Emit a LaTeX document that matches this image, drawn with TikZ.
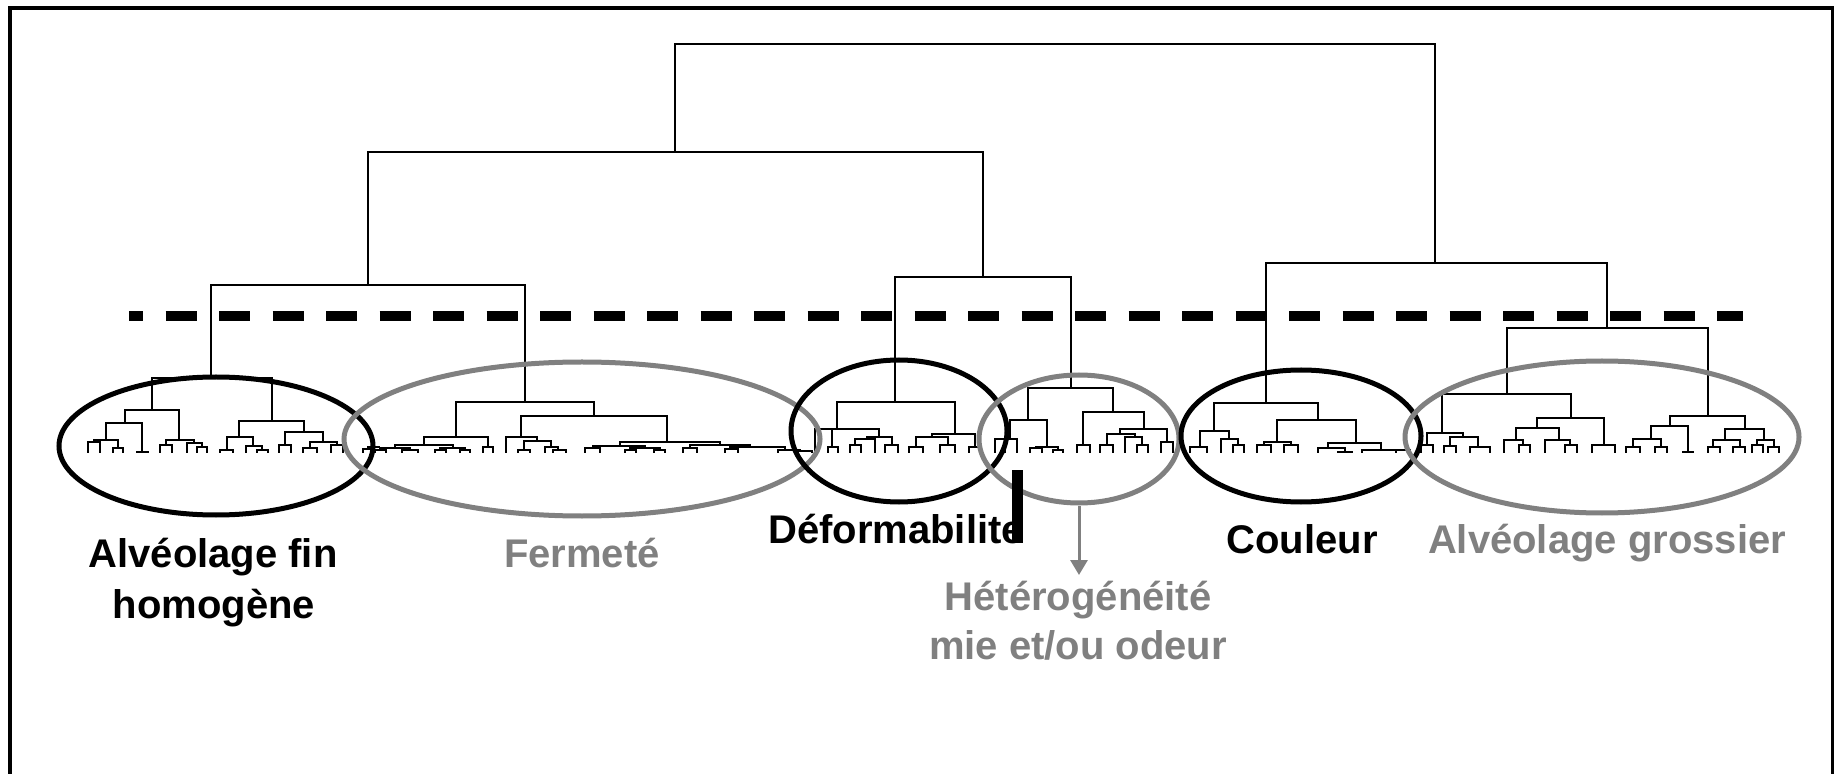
\documentclass[tikz,border=0pt]{standalone}
\usepackage{fontspec}
\setmainfont{Liberation Sans}
\usetikzlibrary{shapes.geometric,arrows.meta}
\definecolor{grayc}{RGB}{128,128,128}
\newcommand\dlink[5]{\draw[tree] (#1,#4) -- (#1,#3) -- (#2,#3) -- (#2,#5);}
\begin{document}
\begin{tikzpicture}[x=0.5pt,y=-0.5pt,
  tree/.style={line width=1pt},
  ringb/.style={ellipse,draw=black,line width=2.5pt,inner sep=0pt},
  ringg/.style={ellipse,draw=grayc,line width=2.5pt,inner sep=0pt},
  lab/.style={font=\fontsize{20}{24}\selectfont\bfseries,inner sep=0pt,anchor=base},
  cutline/.style={line width=5pt,dash pattern=on 15.5pt off 11.25pt,dash phase=8.5pt}]
\useasboundingbox (0,0) rectangle (1834,774);
% frame
\draw[line width=2pt] (10,790) -- (10,8) -- (1833,8) -- (1833,790);
% ---- upper dendrogram
\dlink{675}{1435}{44}{152}{263}
\dlink{368}{983}{152}{285}{277}
\dlink{211}{525}{285}{378}{402}
\dlink{895}{1071}{277}{402}{388}
\dlink{1266}{1607}{263}{403}{328}
% ---- cluster 1
\dlink{152}{272}{378}{410}{421}
\dlink{125}{179}{410}{423}{440}
\dlink{106}{142}{423}{440}{452}
\dlink{137}{148}{452}{453}{453}
\dlink{94}{118}{440}{442}{448}
\dlink{88}{100}{442}{453}{453}
\dlink{113}{123}{448}{453}{453}
\dlink{166}{194}{440}{445}{443}
\dlink{160}{172}{445}{453}{453}
\dlink{187}{202}{443}{453}{447}
\dlink{197}{207}{447}{453}{453}
\dlink{239}{304}{421}{437}{432}
\dlink{227}{253}{437}{450}{446}
\dlink{220}{233}{450}{453}{453}
\dlink{246}{262}{446}{453}{450}
\dlink{257}{268}{450}{453}{453}
\dlink{285}{323}{432}{445}{442}
\dlink{279}{291}{445}{453}{453}
\dlink{310}{337}{442}{448}{445}
\dlink{303}{317}{448}{453}{453}
\dlink{331}{343}{445}{453}{453}
% ---- Fermete
\dlink{456}{594}{402}{437}{416}
\dlink{424}{488}{437}{445}{447}
\dlink{395}{453}{445}{448}{448}
\dlink{380}{410}{448}{450}{450}
\dlink{375}{386}{450}{453}{453}
\dlink{402}{418}{450}{453}{453}
\dlink{440}{465}{448}{450}{450}
\dlink{435}{446}{450}{453}{453}
\dlink{460}{470}{450}{453}{453}
\dlink{483}{493}{447}{453}{453}
\dlink{363}{374}{449}{453}{453}
\draw[tree] (368,449) -- (368,447) -- (380,447);
\dlink{521}{667}{416}{437}{442}
\dlink{506}{537}{437}{453}{441}
\dlink{524}{551}{441}{450}{447}
\dlink{518}{530}{450}{453}{453}
\dlink{545}{558}{447}{453}{450}
\dlink{553}{566}{450}{453}{453}
\dlink{620}{720}{442}{446}{445}
\dlink{593}{645}{446}{448}{448}
\dlink{585}{600}{448}{453}{453}
\dlink{630}{660}{448}{450}{450}
\dlink{625}{636}{450}{453}{453}
\dlink{654}{665}{450}{453}{453}
\dlink{690}{750}{445}{448}{447}
\dlink{683}{697}{448}{453}{453}
\dlink{730}{785}{447}{449}{450}
\dlink{725}{738}{449}{453}{453}
\dlink{778}{800}{450}{453}{451}
\dlink{795}{812}{451}{453}{453}
% ---- Deformabilite
\dlink{837}{955}{402}{429}{434}
\dlink{815}{879}{429}{453}{437}
\draw[tree] (832,429) -- (832,447);
\dlink{828}{838}{447}{453}{453}
\dlink{867}{892}{437}{439}{445}
\dlink{855}{875}{439}{445}{453}
\dlink{850}{861}{445}{453}{453}
\dlink{885}{898}{445}{453}{453}
\dlink{932}{975}{434}{437}{447}
\dlink{916}{948}{437}{447}{445}
\dlink{909}{923}{447}{453}{453}
\dlink{940}{955}{445}{453}{453}
\dlink{969}{980}{447}{453}{453}
% ---- Heterogeneite
\dlink{1028}{1113}{388}{420}{412}
\dlink{1010}{1047}{420}{439}{447}
\dlink{995}{1017}{439}{453}{453}
\draw[tree] (1005,439) -- (1005,453);
\dlink{1036}{1058}{447}{448}{450}
\dlink{1030}{1042}{448}{453}{453}
\dlink{1053}{1063}{450}{453}{453}
\dlink{1083}{1144}{412}{445}{429}
\dlink{1077}{1090}{445}{453}{453}
\dlink{1120}{1167}{429}{434}{442}
\dlink{1107}{1135}{434}{445}{437}
\dlink{1100}{1113}{445}{453}{453}
\dlink{1125}{1142}{437}{453}{445}
\dlink{1137}{1148}{445}{453}{453}
\dlink{1161}{1173}{442}{453}{453}
% ---- Couleur
\dlink{1214}{1318}{403}{431}{420}
\dlink{1200}{1229}{431}{447}{439}
\dlink{1190}{1207}{447}{453}{453}
\dlink{1221}{1238}{439}{453}{445}
\dlink{1233}{1244}{445}{453}{453}
\dlink{1277}{1356}{420}{442}{443}
\dlink{1264}{1291}{442}{445}{445}
\dlink{1257}{1271}{445}{453}{453}
\dlink{1284}{1298}{445}{453}{453}
\dlink{1328}{1381}{443}{448}{450}
\dlink{1318}{1345}{448}{453}{452}
\dlink{1338}{1352}{452}{453}{453}
\dlink{1362}{1403}{450}{453}{450}
\dlink{1396}{1410}{450}{453}{453}
% ---- Alveolage grossier
\dlink{1507}{1708}{328}{394}{416}
\dlink{1442}{1571}{394}{433}{418}
\dlink{1427}{1463}{433}{445}{437}
\dlink{1421}{1433}{445}{453}{453}
\dlink{1450}{1478}{437}{446}{447}
\dlink{1444}{1456}{446}{453}{453}
\dlink{1470}{1490}{447}{453}{453}
\dlink{1537}{1604}{418}{428}{445}
\dlink{1516}{1559}{428}{440}{440}
\dlink{1504}{1523}{440}{453}{445}
\dlink{1519}{1530}{445}{453}{453}
\dlink{1545}{1570}{440}{453}{445}
\dlink{1565}{1577}{445}{453}{453}
\dlink{1592}{1615}{445}{453}{453}
\dlink{1670}{1745}{416}{426}{429}
\dlink{1651}{1688}{426}{439}{452}
\dlink{1683}{1693}{452}{453}{453}
\dlink{1633}{1661}{439}{447}{447}
\dlink{1626}{1640}{447}{453}{453}
\dlink{1655}{1667}{447}{453}{453}
\dlink{1725}{1764}{429}{440}{440}
\dlink{1713}{1740}{440}{447}{447}
\dlink{1708}{1720}{447}{453}{453}
\dlink{1733}{1745}{447}{453}{453}
\dlink{1757}{1774}{440}{445}{447}
\dlink{1752}{1763}{445}{453}{453}
\dlink{1768}{1779}{447}{453}{453}
% ---- cut line
\draw[cutline] (129,316) -- (1743,316);
% ---- ellipses
\node[ringb,minimum width=157pt,minimum height=69pt] (e1) at (216,446) {};
\node[ringg,minimum width=238pt,minimum height=77pt] (e2) at (582,439) {};
\node[ringb,minimum width=108pt,minimum height=71pt] (e3) at (899,431) {};
\node[ringg,minimum width=100pt,minimum height=64pt] (e4) at (1079,439) {};
\node[ringb,minimum width=120pt,minimum height=66pt] (e5) at (1301,436) {};
\node[ringg,minimum width=197pt,minimum height=76pt] (e6) at (1602,437) {};
% ---- labels
\node[lab] (t1a) at (213,567) {Alvéolage fin};
\node[lab] (t1b) at (214,618) {homogène};
\node[lab,text=grayc] (t2) at (582,567) {Fermeté};
\node[lab] (t3) at (896,543) {Déformabilite};
\node[lab,text=grayc] (t4a) at (1078,610) {Hétérogénéité};
\node[lab,text=grayc] (t4b) at (1078,659) {mie et/ou odeur};
\node[lab] (t5) at (1302,553) {Couleur};
\node[lab,text=grayc] (t6) at (1607,553) {Alvéolage grossier};
% ---- black mark and arrow
\fill (1012,470) rectangle (1023,543);
\coordinate (tip) at (1079,575);
\draw[grayc,line width=1.5pt,-{Triangle[width=8.5pt,length=7.5pt]}] (e4.south) -- (tip);
\end{tikzpicture}
\end{document}
